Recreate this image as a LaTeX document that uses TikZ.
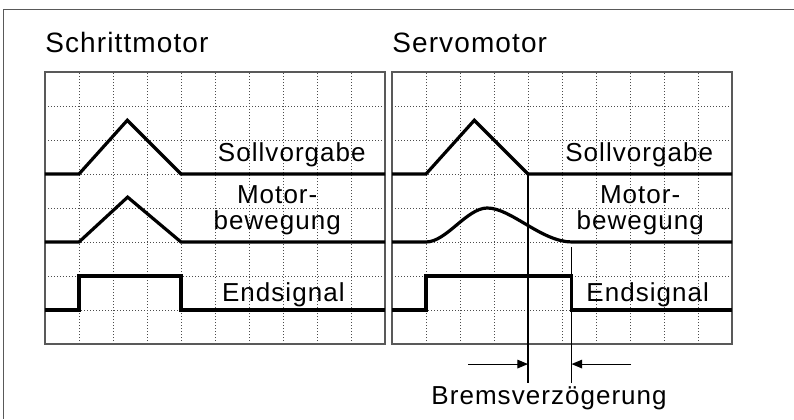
\documentclass[tikz,border=0pt]{standalone}
\usepackage{fontspec}
\setmainfont{Liberation Sans}[LetterSpace=4]
\usepackage{tikz}
\usetikzlibrary{arrows.meta}
\tikzset{
	gridline/.style={draw=black!70,line width=0.6pt,dash pattern=on 0.75pt off 1.5pt},
	panelbox/.style={draw=black!65,line width=1.1pt},
	outerframe/.style={draw=black!65,line width=1.4pt},
	signal/.style={draw=black,line width=2.4pt,line join=miter},
	marker/.style={draw=black,line width=0.8pt},
	delayarrow/.style={-{Triangle[length=8pt,width=6.5pt]},line width=0.8pt},
	lbl/.style={inner sep=0pt,font=\fontsize{19.5}{19.5}\selectfont},
	ttl/.style={inner sep=0pt,font=\fontsize{21}{21}\selectfont}
}

\begin{document}
\begin{tikzpicture}[x=25.5pt,y=25.5pt]
	\useasboundingbox (-1.3235,-2.2059) rectangle (22.0294,10.1176);
	\draw[outerframe] (22.0294,9.838) -- (-1.22,9.838) -- (-1.22,-2.2059);
	% grids of both panels
	\foreach \s in {0,10.206} {
		\begin{scope}[shift={(\s,0)}]
			\foreach \x in {1,...,9} \draw[gridline] (\x,0) -- (\x,8);
			\foreach \y in {1,...,7} \draw[gridline] (0,\y) -- (10,\y);
			\draw[panelbox] (0,0) rectangle (10,8);
		\end{scope}
	}
	% Schrittmotor
	\draw[signal] (0,5) -- (1,5) -- (2.42,6.58) -- (4,5) -- (10,5);
	\draw[signal] (0,3) -- (1,3) -- (2.43,4.32) -- (4,3) -- (10,3);
	\draw[signal] (0,1) -- (1,1) -- (1,2) -- (4,2) -- (4,1) -- (10,1);
	\node[ttl,anchor=base west] (titleL) at (0,8.58) {Schrittmotor};
	\node[lbl,anchor=base east] (sollL) at (9.44,5.36) {Sollvorgabe};
	\node[lbl,anchor=base,align=center] (motL) at (6.83,3.37) {Motor-\\bewegung};
	\node[lbl,anchor=base] (endL) at (7.01,1.26) {Endsignal};
	% Servomotor
	\begin{scope}[shift={(10.206,0)}]
		\draw[signal] (0,5) -- (1,5) -- (2.42,6.58) -- (4,5) -- (10,5);
		\draw[signal] (0,3) -- (1,3) .. controls (1.6,3) and (2.2,4) .. (2.8,4)
			.. controls (3.5,4) and (4.4,3) .. (5.3,3) -- (10,3);
		\draw[signal] (0,1) -- (1,1) -- (1,2) -- (5.28,2) -- (5.28,1) -- (10,1);
		\node[ttl,anchor=base west] (titleR) at (0,8.58) {Servomotor};
		\node[lbl,anchor=base east] (sollR) at (9.45,5.36) {Sollvorgabe};
		\node[lbl,anchor=base,align=center] (motR) at (7.3,3.37) {Motor-\\bewegung};
		\node[lbl,anchor=base] (endR) at (7.52,1.26) {Endsignal};
		\coordinate (brakeTop) at (4,5);
		\coordinate (brakeBot) at (4,-1.15);
		\coordinate (stopTop) at (5.28,2.85);
		\coordinate (stopBot) at (5.28,-1.15);
		\coordinate (arrL) at (2.24,-0.59);
		\coordinate (arrR) at (7.03,-0.59);
		\draw[marker] (brakeTop) -- (brakeBot);
		\draw[marker] (stopTop) -- (stopBot);
		\draw[delayarrow] (arrL) -- (arrL -| brakeTop);
		\draw[delayarrow] (arrR) -- (arrR -| stopTop);
		\node[lbl,anchor=base] (brems) at (4.62,-1.79) {Bremsverzögerung};
	\end{scope}
\end{tikzpicture}
\end{document}
